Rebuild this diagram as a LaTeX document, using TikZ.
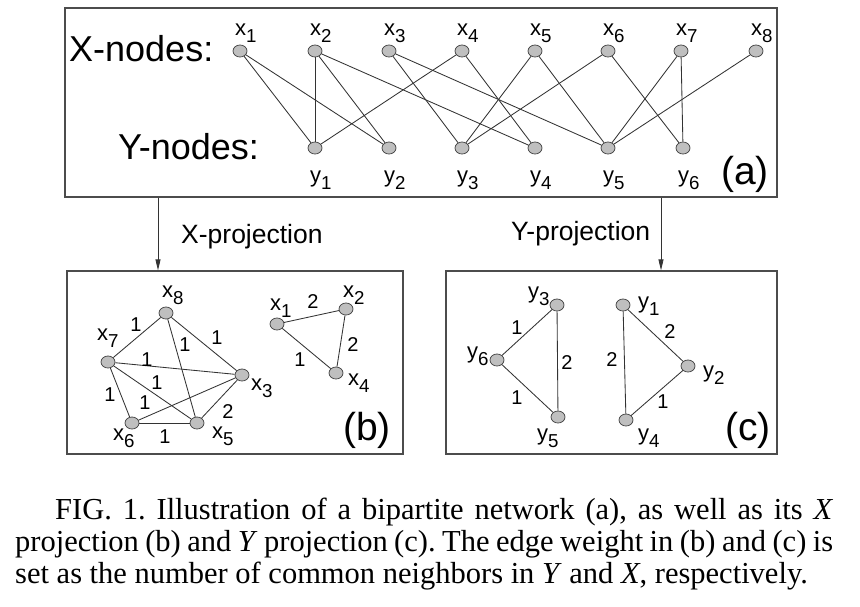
\documentclass[tikz,border=0pt]{standalone}
\usepackage{fontspec}
\setmainfont{Liberation Serif}
\setsansfont{Liberation Sans}
\usetikzlibrary{shapes,arrows,positioning,calc,arrows.meta}

\newcommand{\nsub}[1]{\raisebox{-0.35em}{\scalebox{0.85}{#1}}}
\frenchspacing

\tikzset{
    vtx/.style={ellipse,draw=black!70,fill=black!25,line width=0.8pt,minimum width=14pt,minimum height=12pt,inner sep=0pt},
    link/.style={draw=black!80,line width=0.85pt},
    panel/.style={draw=black!70,line width=1.2pt,inner sep=0pt},
    nlbl/.style={font=\sffamily\fontsize{22}{22}\selectfont,inner sep=0pt},
    wt/.style={font=\sffamily\fontsize{20}{20}\selectfont,inner sep=0pt},
    headtext/.style={font=\sffamily\fontsize{36}{36}\selectfont,inner sep=0pt},
    projtext/.style={font=\sffamily\fontsize{26.5}{26.5}\selectfont,inner sep=0pt},
    pantag/.style={font=\sffamily\fontsize{39}{39}\selectfont,inner sep=0pt},
    captext/.style={font=\fontsize{30.5}{32}\selectfont,inner sep=0pt},
    proj/.style={draw=black!80,line width=0.85pt,-{Triangle[length=11pt,width=5pt]}}
}

\begin{document}
\begin{tikzpicture}[x=1pt,y=-1pt]
    \useasboundingbox (0,0) rectangle (860,606);

    % panels
    \node[panel,minimum width=712pt,minimum height=189pt] (pa) at (421,102.5) {};
    \node[panel,minimum width=336pt,minimum height=183pt] (pb) at (235,362.5) {};
    \node[panel,minimum width=331pt,minimum height=183pt] (pc) at (611.5,362.5) {};

    % (a) bipartite network
    \node[headtext,anchor=base west] (xhead) at (69,61) {X-nodes:};
    \node[headtext,anchor=base west] (yhead) at (118,159) {Y-nodes:};
    \foreach \i/\px in {1/240,2/315,3/389,4/462,5/535,6/608,7/681,8/756} {
        \node[vtx] (x\i) at (\px,51) {};
        \node[nlbl,anchor=base west] (lx\i) at (\px-5,35) {x\nsub{\i}};
    }
    \foreach \i/\px in {1/315,2/389,3/462,4/535,5/608,6/683} {
        \node[vtx] (y\i) at (\px,148) {};
        \node[nlbl,anchor=base west] (ly\i) at (\px-5,182) {y\nsub{\i}};
    }
    \foreach \a/\b in {1/1,1/2,2/1,2/2,2/4,3/3,3/5,4/1,4/4,5/3,5/5,6/3,6/6,7/5,7/6,8/5}
        \draw[link] (x\a) -- (y\b);
    \node[pantag,anchor=base east] (taga) at (769,184) {(a)};

    % projections
    \coordinate (xa) at (158,0);
    \coordinate (ya) at (661,0);
    \draw[proj] (xa |- pa.south) -- (xa |- pb.north);
    \draw[proj] (ya |- pa.south) -- (ya |- pc.north);
    \node[projtext,anchor=base west] (xproj) at (181,243) {X-projection};
    \node[projtext,anchor=base west] (yproj) at (511,240) {Y-projection};

    % (b) X-projection
    \foreach \i/\px/\py/\dx/\dy in {8/166/313/-4/-16,7/108/362/-11/-22,3/242/375/9/15,6/132/423/-19/17,5/197/423/15/15,1/277/324/-7/-14,2/346/309/-3/-12,4/336/373/12/12} {
        \node[vtx] (bx\i) at (\px,\py) {};
        \node[nlbl,anchor=base west] (lbx\i) at (\px+\dx,\py+\dy) {x\nsub{\i}};
    }
    \foreach \a/\b in {8/7,8/3,8/5,7/3,7/5,7/6,6/3,6/5,3/5,1/2,1/4,2/4}
        \draw[link] (bx\a) -- (bx\b);
    \foreach \w/\px/\py [count=\k] in {1/136/325,1/217/338,1/185/345,1/147/360,1/157/383,1/145/403,1/110/395,1/165/437,2/228/412,2/313/302,2/353/345,1/300/360}
        \node[wt] (wb\k) at (\px,\py) {\w};
    \node[pantag,anchor=base east] (tagb) at (391,440) {(b)};

    % (c) Y-projection
    \foreach \i/\px/\py/\dx/\dy in {3/557/305/-29/-7,6/497/360/-30/-2,5/558/417/-21/23,1/623/305/15/3,2/688/366/15/11,4/626/420/12/20} {
        \node[vtx] (cy\i) at (\px,\py) {};
        \node[nlbl,anchor=base west] (lcy\i) at (\px+\dx,\py+\dy) {y\nsub{\i}};
    }
    \foreach \a/\b in {3/6,3/5,6/5,1/2,1/4,2/4}
        \draw[link] (cy\a) -- (cy\b);
    \foreach \w/\px/\py [count=\k] in {1/517/328,2/567/363,1/517/398,2/612/360,2/670/332,1/663/402}
        \node[wt] (wc\k) at (\px,\py) {\w};
    \node[pantag,anchor=base east] (tagc) at (771,440) {(c)};

    % caption
    \node[captext,anchor=base west] (cap1) at (55,519) {\makebox[778pt][s]{FIG. 1. Illustration of a bipartite network (a), as well as its \textit{X}}};
    \node[captext,anchor=base west] (cap2) at (15,551) {\makebox[818pt][s]{projection (b) and \textit{Y} projection (c). The edge weight in (b) and (c) is}};
    \node[captext,anchor=base west] (cap3) at (15,583) {set as the number of common neighbors in \textit{Y} and \textit{X}, respectively.};
\end{tikzpicture}
\end{document}
